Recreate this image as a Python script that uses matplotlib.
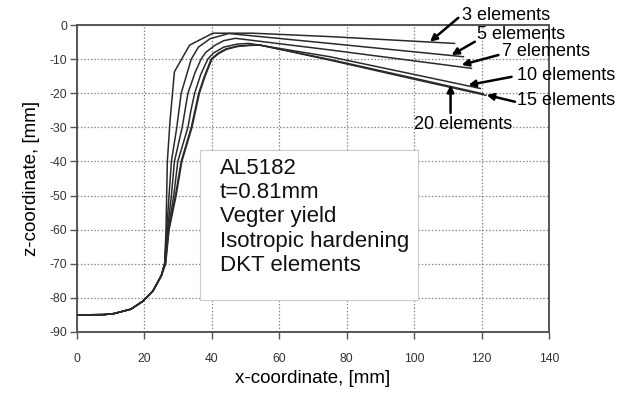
import matplotlib
matplotlib.use("Agg")
import matplotlib.pyplot as plt
from matplotlib.patches import Rectangle

plt.rcParams['font.family'] = ['Liberation Sans', 'DejaVu Sans']
plt.rcParams['axes.unicode_minus'] = False

# ---- data ----
base_x = [0, 8, 11, 16, 19.5, 22.5, 25]
base_y = [-85, -84.9, -84.6, -83.3, -81, -78, -73.5]

x3 = base_x + [26, 26.4, 26.8, 27.6, 28.9, 33.4, 40.3, 52, 75, 112]
y3 = base_y + [-70, -60, -40, -28, -13.7, -5.9, -2.4, -2.4, -3.4, -5.4]

x5 = base_x + [26, 26.6, 27.3, 28.0, 29.6, 30.9, 33.9, 36.0, 39.5, 45, 75, 114.6]
y5 = base_y + [-70, -60, -50, -40, -30, -20, -10, -6.5, -4.0, -2.5, -5.4, -9.3]

x7 = base_x + [26, 26.8, 28.0, 28.9, 31.2, 32.9, 35.0, 36.8, 38.2, 41.0, 43.5, 47, 75, 117]
y7 = base_y + [-70, -60, -50, -40, -30, -20, -14, -10, -8.0, -5.9, -4.6, -3.9, -7.3, -12.7]

x10 = base_x + [26.1, 27.0, 28.7, 29.9, 31.4, 32.9, 33.8, 34.9, 36.7, 38.8, 40.5, 43.5, 47.5, 51, 75, 100, 119.6]
y10 = base_y + [-70, -60, -50, -40, -35, -30, -25, -20, -14.5, -10, -8.2, -6.5, -5.6, -5.4, -9.3, -14.5, -18.6]

x15 = base_x + [26.2, 27.2, 29.2, 30.9, 32.4, 33.9, 35.0, 36.1, 37.8, 39.8, 41.8, 44.2, 47.5, 51, 54, 75, 100, 121.3]
y15 = base_y + [-70, -60, -50, -40, -35, -30, -25, -20, -15, -10, -8.3, -7.0, -6.2, -5.9, -5.8, -10.3, -15.9, -20.6]

x20 = base_x + [26.3, 27.3, 29.4, 31.1, 32.6, 34.1, 35.2, 36.3, 38.0, 40.0, 42.0, 44.4, 47.7, 51.2, 54.2, 75, 100, 120.5]
y20 = base_y + [-70, -60, -50, -40, -35, -30, -25, -20, -15, -10, -8.4, -7.1, -6.3, -6.0, -5.9, -10.1, -15.6, -20.2]

series = [(x3, y3), (x5, y5), (x7, y7), (x10, y10), (x15, y15), (x20, y20)]

labels = ["3 elements", "5 elements", "7 elements", "10 elements", "15 elements", "20 elements"]
arrow_tips = [(104.7, -4.9), (111.1, -8.8), (114.1, -11.7), (116.1, -17.6), (121.5, -20.5), (110.8, -17.6)]
arrow_tails = [(113.1, 2.1), (118.0, -4.9), (125.0, -8.8), (128.9, -15.2), (129.9, -22.5), (110.8, -25.8)]
label_pos = [(114.1, 2.9), (118.6, -2.9), (126.0, -7.8), (130.4, -14.7), (130.4, -22.0), (114.6, -29.3)]
label_ha = ["left", "left", "left", "left", "left", "center"]

xticks = [0, 20, 40, 60, 80, 100, 120, 140]
yticks = [0, -10, -20, -30, -40, -50, -60, -70, -80, -90]

info_text = "AL5182\nt=0.81mm\nVegter yield\nIsotropic hardening\nDKT elements"

# ---- figure ----
fig = plt.figure(figsize=(6.29, 3.94), dpi=100)
ax = fig.add_axes([77/629, 1 - 332/394, (549 - 77)/629, (332 - 25)/394])

ax.set_xlim(0, 140)
ax.set_ylim(-90, 0)
ax.set_xticks(xticks)
ax.set_yticks(yticks)
ax.grid(True, linestyle=(0, (1.2, 1.5)), color='#888888', linewidth=0.9)
ax.set_axisbelow(True)

for sp in ax.spines.values():
    sp.set_color('#555555')
    sp.set_linewidth(1.4)

ax.tick_params(axis='both', colors='#555555', labelcolor='#333333', labelsize=8.8, length=5, width=1)
ax.tick_params(axis='x', pad=10)
ax.tick_params(axis='y', pad=2)

for xs, ys in series:
    ax.plot(xs, ys, color='#2a2a2a', linewidth=1.1, zorder=3)

ax.set_xlabel("x-coordinate, [mm]", fontsize=13.5, labelpad=4)
ax.set_ylabel("z-coordinate, [mm]", fontsize=13.5, labelpad=7)

# info box
rect = Rectangle((200/629, 1 - 300/394), 218/629, 150/394, transform=fig.transFigure,
                 facecolor='white', edgecolor='#cccccc', linewidth=0.8, zorder=4)
fig.patches.append(rect)
fig.text(220/629, 1 - 158/394, info_text, fontsize=16, va='top', ha='left',
         linespacing=1.2, color='#111111', zorder=5)

for lab, tip, tail, pos, ha in zip(labels, arrow_tips, arrow_tails, label_pos, label_ha):
    ax.annotate("", xy=tip, xytext=tail, annotation_clip=False,
                arrowprops=dict(arrowstyle='-|>', color='black', lw=1.8,
                                mutation_scale=10, shrinkA=0, shrinkB=0),
                zorder=6)
    ax.text(pos[0], pos[1], lab, ha=ha, va='center', fontsize=13, clip_on=False, zorder=6)

fig.savefig("out.png", dpi=100)
